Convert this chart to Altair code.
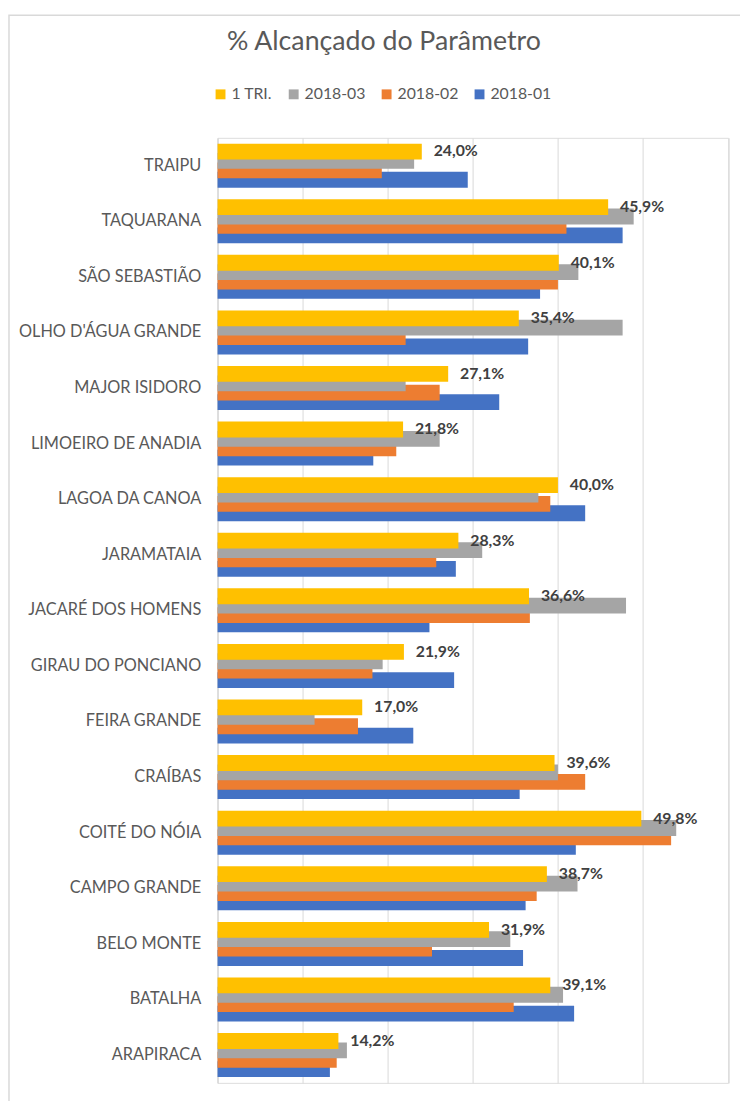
import altair as alt
import pandas as pd

municipios = [
    "TRAIPU", "TAQUARANA", "SÃO SEBASTIÃO", "OLHO D'ÁGUA GRANDE", "MAJOR ISIDORO",
    "LIMOEIRO DE ANADIA", "LAGOA DA CANOA", "JARAMATAIA", "JACARÉ DOS HOMENS",
    "GIRAU DO PONCIANO", "FEIRA GRANDE", "CRAÍBAS", "COITÉ DO NÓIA",
    "CAMPO GRANDE", "BELO MONTE", "BATALHA", "ARAPIRACA",
]

tri1 = [24.0, 45.9, 40.1, 35.4, 27.1, 21.8, 40.0, 28.3, 36.6, 21.9, 17.0, 39.6, 49.8, 38.7, 31.9, 39.1, 14.2]
s2018_03 = [23.1, 48.9, 42.4, 47.6, 22.1, 26.1, 37.7, 31.1, 48.0, 19.4, 11.4, 40.0, 53.9, 42.3, 34.4, 40.6, 15.2]
s2018_02 = [19.3, 41.0, 40.0, 22.1, 26.1, 21.0, 39.1, 25.7, 36.7, 18.2, 16.5, 43.2, 53.3, 37.5, 25.2, 34.8, 14.0]
s2018_01 = [29.4, 47.6, 37.9, 36.5, 33.1, 18.3, 43.2, 28.0, 24.9, 27.8, 23.0, 35.5, 42.1, 36.2, 35.9, 41.9, 13.2]

series_order = ["1 TRI.", "2018-03", "2018-02", "2018-01"]
series_colors = ["#FFC000", "#A5A5A5", "#ED7D31", "#4472C4"]

# draw order: blue first, yellow last (on top)
draw_series = [("2018-01", s2018_01), ("2018-02", s2018_02), ("2018-03", s2018_03), ("1 TRI.", tri1)]
rows = []
for name, vals in draw_series:
    for m, v in zip(municipios, vals):
        rows.append({
            "municipio": m,
            "serie": name,
            "valor": v,
            "rotulo": (f"{v:.1f}".replace(".", ",") + "%"),
        })
df = pd.DataFrame(rows)

FONT = "Lato"

base = alt.Chart(df)

bars = base.mark_bar(height=16).encode(
    x=alt.X(
        "valor:Q",
        stack=None,
        scale=alt.Scale(domain=[0, 60], nice=False),
        axis=alt.Axis(values=list(range(0, 61, 10)), labels=False, ticks=False,
                      domain=False, grid=True, gridColor="#D9D9D9", title=None),
    ),
    y=alt.Y(
        "municipio:N",
        sort=municipios,
        scale=alt.Scale(paddingInner=0.324, paddingOuter=0.162),
        axis=alt.Axis(title=None, ticks=False, labelPadding=17, labelFontSize=16.5,
                      labelColor="#595959", labelFont=FONT, domainColor="#D9D9D9",
                      grid=False, labelLimit=300),
    ),
    yOffset=alt.YOffset("serie:N", sort=series_order,
                        scale=alt.Scale(paddingInner=0, paddingOuter=0)),
    color=alt.Color(
        "serie:N",
        scale=alt.Scale(domain=series_order, range=series_colors),
        legend=alt.Legend(
            orient="none", legendX=-5, legendY=-52, direction="horizontal",
            title=None, symbolType="square", symbolSize=100, symbolStrokeWidth=0,
            labelFontSize=16, labelColor="#595959", labelFont=FONT,
            columnPadding=13, labelOffset=3,
        ),
    ),
)

labels = base.transform_filter(alt.datum.serie == "1 TRI.").mark_text(
    align="left", baseline="middle", dx=12, fontSize=16, fontWeight="bold",
    color="#404040", font=FONT,
).encode(
    x=alt.X("valor:Q", stack=None),
    y=alt.Y("municipio:N", sort=municipios),
    yOffset=alt.YOffset("serie:N", sort=series_order),
    text=alt.Text("rotulo:N"),
)

border = alt.Chart(alt.Data(values=[{"k": 1}])).mark_rect(
    fillOpacity=0, stroke="#D9D9D9", strokeWidth=1.5,
).encode(
    x=alt.value(-211), x2=alt.value(560), y=alt.value(-124), y2=alt.value(1000),
)

chart = alt.layer(border, bars, labels).properties(
    width=516.5,
    height=956,
    autosize=alt.AutoSizeParams(type="none"),
    padding={"left": 212, "top": 125, "right": 12, "bottom": 12},
    title=alt.TitleParams(
        "% Alcançado do Parâmetro", fontSize=27, font=FONT, fontWeight="normal",
        color="#595959", anchor="middle", dx=-90, offset=-55, baseline="middle",
    ),
).configure_view(stroke=None).configure(background="white")

chart.save("out.html", embed_options={"renderer": "svg", "actions": False})
